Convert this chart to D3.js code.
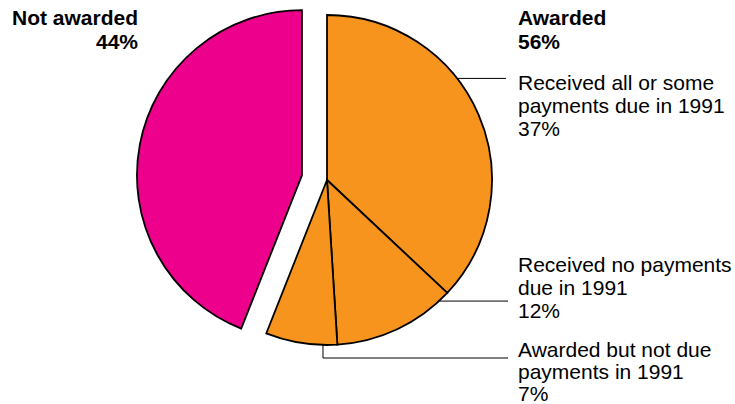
<!DOCTYPE html>
<html>
<head>
<meta charset="utf-8">
<script src="https://cdn.jsdelivr.net/npm/d3@7"></script>
<style>
  body { margin: 0; background: #fff; }
  svg { display: block; font-family: "Liberation Sans", Arial, sans-serif; }
</style>
</head>
<body>
<div id="chart"></div>
<script>
// slice data, clockwise from 12 o'clock
var categories = ["Received all or some payments due in 1991", "Received no payments due in 1991", "Awarded but not due payments in 1991", "Not awarded"];
var values = [37, 12, 7, 44];
var group = ["awarded", "awarded", "awarded", "not"];

// label text, one entry per line
var headLeft = ["Not awarded", "44%"];
var headRight = ["Awarded", "56%"];
var subLabels = [
  ["Received all or some", "payments due in 1991", "37%"],
  ["Received no payments", "due in 1991", "12%"],
  ["Awarded but not due", "payments in 1991", "7%"]
];

var width = 735, height = 404;
var cx = 327, cy = 180, radius = 165;
var explode = 25.5;

var color = { awarded: "#F7941E", not: "#EC008C" };

var svg = d3.select("#chart").append("svg")
    .attr("width", width)
    .attr("height", height);

var pie = d3.pie().sort(null).value(d => d);
var arc = d3.arc().innerRadius(0).outerRadius(radius);
var arcs = pie(values);

var g = svg.append("g").attr("transform", "translate(" + cx + "," + cy + ")");

g.selectAll("path")
  .data(arcs)
  .enter().append("path")
    .attr("d", arc)
    .attr("fill", (d, i) => color[group[i]])
    .attr("stroke", "#000")
    .attr("stroke-width", 1.8)
    .attr("stroke-linejoin", "miter")
    .attr("transform", function(d, i) {
      if (group[i] !== "not") return null;
      // pull the "not awarded" slice out along its middle angle
      var mid = (d.startAngle + d.endAngle) / 2;
      return "translate(" + (explode * Math.sin(mid)) + "," + (-explode * Math.cos(mid)) + ")";
    });

// leader lines: angle on the rim (degrees) and where they end
var leaderAngle = [52, 137.2, 181.4];
var leaderEndX = [506, 508, 508];
var leaderDropY = [null, null, 358];

var leaders = svg.append("g")
    .attr("fill", "none")
    .attr("stroke", "#000")
    .attr("stroke-width", 1);

leaderAngle.forEach(function(a, i) {
  var t = a * Math.PI / 180;
  var x0 = cx + radius * Math.sin(t);
  var y0 = cy - radius * Math.cos(t);
  var pts = [[x0, y0]];
  if (leaderDropY[i] != null) {
    pts.push([x0, leaderDropY[i]]);
    pts.push([leaderEndX[i], leaderDropY[i]]);
  } else {
    pts.push([leaderEndX[i], y0]);
  }
  leaders.append("path").attr("d", d3.line()(pts));
});

var fontSize = 21;

function block(lines, x, y, anchor, weight, lineH) {
  var t = svg.append("text")
      .attr("x", x)
      .attr("y", y)
      .attr("text-anchor", anchor)
      .attr("font-size", fontSize)
      .attr("font-weight", weight)
      .attr("fill", "#000");
  lines.forEach(function(s, i) {
    t.append("tspan")
      .attr("x", x)
      .attr("y", y + i * lineH)
      .text(s);
  });
}

block(headLeft, 138, 25, "end", "bold", 24);
block(headRight, 518, 25, "start", "bold", 24);

var subY = [90, 272, 356.5];
var subLineH = [23.2, 23.2, 22.2];
subLabels.forEach(function(lines, i) {
  block(lines, 518, subY[i], "start", "normal", subLineH[i]);
});
</script>
</body>
</html>
